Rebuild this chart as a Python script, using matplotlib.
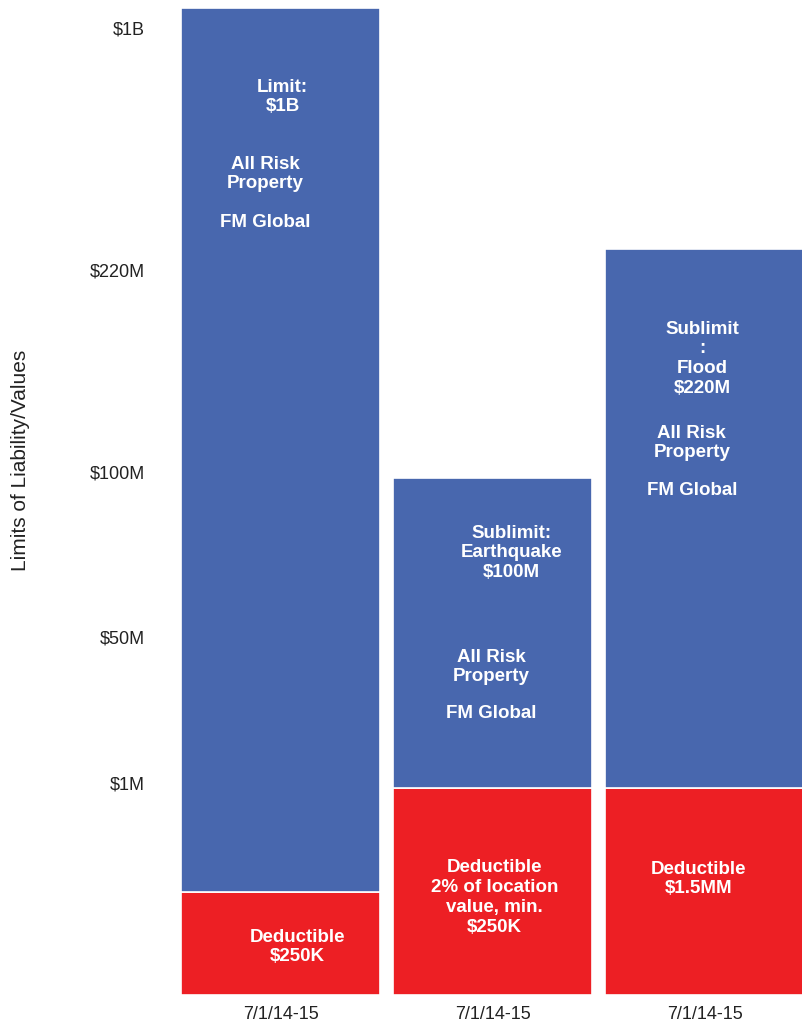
import matplotlib
matplotlib.use("Agg")
import matplotlib.pyplot as plt

plt.rcParams['font.family'] = ['Liberation Sans', 'DejaVu Sans']

# chart data (the y axis is a custom, non-linear scale: values are scale positions)
periods = ["7/1/14-15", "7/1/14-15", "7/1/14-15"]
deductible_top = [102.5, 206.5, 206.5]
limit_top = [986.5, 516.5, 745.5]
tick_positions = [211.5, 357.5, 522.5, 724.5, 966.5]
tick_labels = ["$1M", "$50M", "$100M", "$220M", "$1B"]

limit_labels = ["Limit:\n$1B", "Sublimit:\nEarthquake\n$100M", "Sublimit\n:\nFlood\n$220M"]
deductible_labels = ["Deductible\n$250K", "Deductible\n2% of location\nvalue, min.\n$250K",
                     "Deductible\n$1.5MM"]

blue = "#4867ae"
red = "#ed1f24"

W, H = 802, 1026
fig = plt.figure(figsize=(W / 100, H / 100), dpi=100)
ax = fig.add_axes([170 / W, (H - 994.5) / H, (W - 170) / W, 994.5 / H])

x = range(len(periods))
limit_height = [t - d for t, d in zip(limit_top, deductible_top)]
ax.bar(x, deductible_top, width=0.94, color=red, edgecolor="white", linewidth=1.2)
ax.bar(x, limit_height, bottom=deductible_top, width=0.94, color=blue,
       edgecolor="white", linewidth=1.2)

ax.set_xlim(-110.5 / 212, (W - 280.5) / 212)
ax.set_ylim(0, 994.5)

txt = dict(color="white", fontsize=13.5, fontweight="bold", ha="center", va="top",
           linespacing=1.22)
# label placement: (x offset from bar centre, top of text block)
limit_pos = [(0.01, 916), (0.09, 470), (-0.01, 674)]
risk_pos = [(-0.07, 839), (-0.005, 346), (-0.06, 570)]
fm_pos = [(-0.07, 781), (-0.005, 289), (-0.06, 513)]
ded_pos = [(0.08, 66), (0.01, 135), (-0.03, 134)]
for i in x:
    ax.text(i + limit_pos[i][0], limit_pos[i][1], limit_labels[i], **txt)
    ax.text(i + risk_pos[i][0], risk_pos[i][1], "All Risk\nProperty", **txt)
    ax.text(i + fm_pos[i][0], fm_pos[i][1], "FM Global", **txt)
    ax.text(i + ded_pos[i][0], ded_pos[i][1], deductible_labels[i], **txt)

ax.set_xticks(list(x))
ax.set_xticklabels(periods, fontsize=13)
ax.set_yticks(tick_positions)
ax.set_yticklabels(tick_labels, fontsize=13)
ax.tick_params(axis="both", length=0, colors="#222222")
ax.tick_params(axis="y", pad=18)
ax.tick_params(axis="x", pad=8.5)
for s in ax.spines.values():
    s.set_visible(False)

ax.set_ylabel("Limits of Liability/Values", fontsize=15, color="#222222")
ax.yaxis.set_label_coords(-140 / (W - 170), (994.5 - 460) / 994.5)

fig.savefig("out.png", dpi=100)
